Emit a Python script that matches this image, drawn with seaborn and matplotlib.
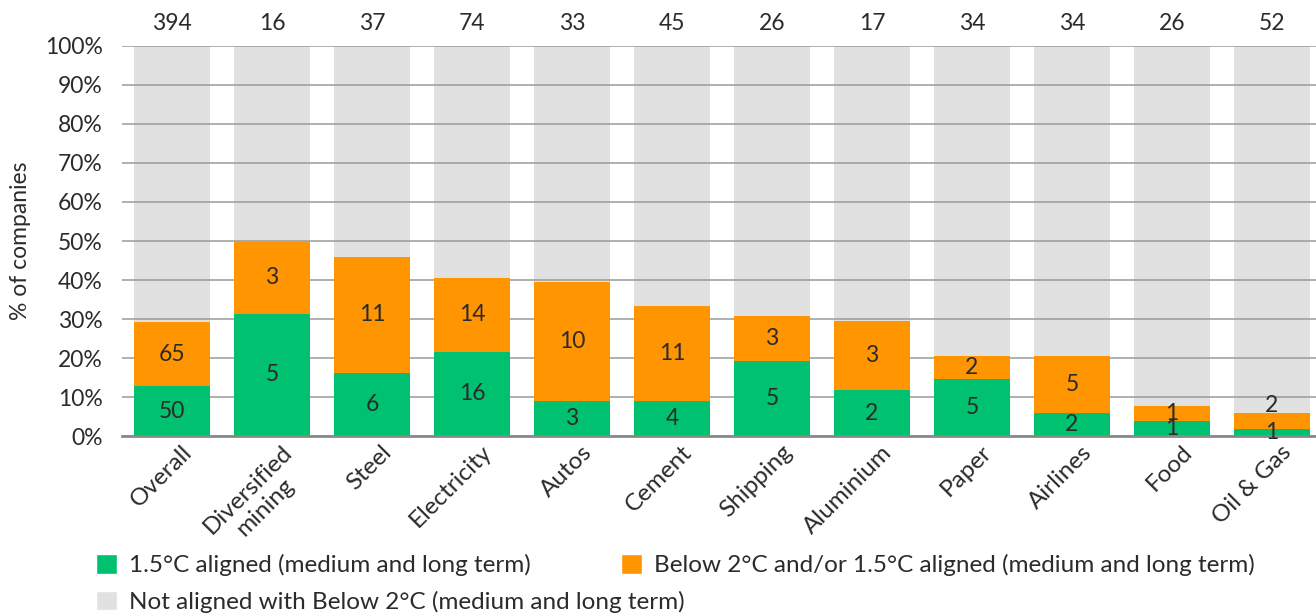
import matplotlib
matplotlib.use("Agg")
import matplotlib.pyplot as plt
import matplotlib.transforms as mtrans
import seaborn as sns
import pandas as pd
import numpy as np
from matplotlib.patches import Patch

categories = ["Overall", "Diversified\nmining", "Steel", "Electricity", "Autos", "Cement",
              "Shipping", "Aluminium", "Paper", "Airlines", "Food", "Oil & Gas"]
totals = [394, 16, 37, 74, 33, 45, 26, 17, 34, 34, 26, 52]
green_counts = [50, 5, 6, 16, 3, 4, 5, 2, 5, 2, 1, 1]
orange_counts = [65, 3, 11, 14, 10, 11, 3, 3, 2, 5, 1, 2]
# percentages
green_pct = [12.7, 31.3, 16.2, 21.6, 9.1, 8.9, 19.2, 11.8, 14.7, 5.9, 3.8, 1.9]
top_pct = [29.2, 50.0, 45.9, 40.5, 39.4, 33.3, 30.8, 29.4, 20.6, 20.6, 7.7, 5.8]

GREEN = "#00C170"
ORANGE = "#FF9500"
GRAY = "#E1E1E1"
TXT = "#2b2b2b"
FS = 16
FS2 = 17.5

sns.set_theme(style="white")
plt.rcParams['font.family'] = ['Lato', 'DejaVu Sans']

df = pd.DataFrame({"cat": categories, "green": green_pct, "top": top_pct,
                   "full": [100] * len(categories)})

fig = plt.figure(figsize=(13.16, 6.13), dpi=100)
ax = fig.add_axes([0.0927, 0.2887, 0.9073, 0.6363])

for col, c, z in [("full", GRAY, 1), ("top", ORANGE, 3), ("green", GREEN, 4)]:
    sns.barplot(data=df, x="cat", y=col, color=c, width=0.76, ax=ax,
                saturation=1, zorder=z, linewidth=0, edgecolor="none")

ax.set_ylim(0, 100)
ax.set_xlim(-0.5, 11.44)
ax.set_yticks(np.arange(0, 101, 10))
ax.set_yticklabels([f"{v}%" for v in range(0, 101, 10)], fontsize=FS + 0.5, color=TXT)
ax.yaxis.grid(True, color="#9a9a9a", linewidth=1.1)
ax.set_axisbelow(False)
for line in ax.get_ygridlines():
    line.set_zorder(2)
for s in ["top", "right", "left"]:
    ax.spines[s].set_visible(False)
ax.spines["bottom"].set_color("#8a8a8a")
ax.spines["bottom"].set_linewidth(2)
ax.spines["bottom"].set_zorder(5)
ax.tick_params(axis="both", length=0)
ax.tick_params(axis="y", pad=14)
ax.set_xlabel("")
ax.set_ylabel("% of companies", fontsize=FS + 0.5, color=TXT, labelpad=10)

ax.set_xticks(range(len(categories)))
ax.set_xticklabels(categories, rotation=45, ha="right", rotation_mode="anchor",
                   fontsize=FS2, color=TXT, multialignment="center")
ax.tick_params(axis="x", pad=4)
offset = mtrans.ScaledTranslation(9 / 100, 0, fig.dpi_scale_trans)
for lbl in ax.get_xticklabels():
    lbl.set_transform(lbl.get_transform() + offset)

for i in range(len(categories)):
    g = green_pct[i]
    t = top_pct[i]
    ax.text(i, g / 2, str(green_counts[i]), ha="center", va="center",
            fontsize=FS + 0.5, color=TXT, zorder=6)
    oy = (g + t) / 2
    if i == len(categories) - 1:
        oy = t + 2.0
    ax.text(i, oy, str(orange_counts[i]), ha="center", va="center",
            fontsize=FS + 0.5, color=TXT, zorder=6)
    ax.text(i, 103.0, str(totals[i]), ha="center", va="bottom",
            fontsize=FS + 0.5, color=TXT, clip_on=False)

h_green = Patch(facecolor=GREEN, label="1.5°C aligned (medium and long term)")
h_orange = Patch(facecolor=ORANGE, label="Below 2°C and/or 1.5°C aligned (medium and long term)")
h_gray = Patch(facecolor=GRAY, label="Not aligned with Below 2°C (medium and long term)")
common = dict(loc="upper left", frameon=False, fontsize=FS2, handlelength=0.85,
              handleheight=0.85, handletextpad=0.5, borderaxespad=0, borderpad=0)
leg1 = fig.legend(handles=[h_green], bbox_to_anchor=(0.073, 0.096), **common)
leg2 = fig.legend(handles=[h_orange], bbox_to_anchor=(0.472, 0.096), **common)
leg3 = fig.legend(handles=[h_gray], bbox_to_anchor=(0.073, 0.036), **common)
for leg in (leg1, leg2, leg3):
    for t in leg.get_texts():
        t.set_color(TXT)

fig.savefig("out.png", dpi=100)
